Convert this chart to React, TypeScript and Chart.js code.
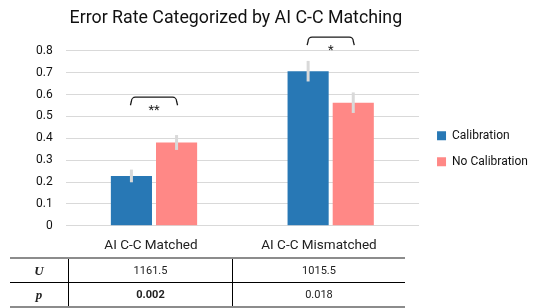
import { useEffect, useRef } from 'react';
import { Chart, registerables } from 'chart.js';

Chart.register(...registerables);

const FONT = 'Roboto';

const categories = ['AI C-C Matched', 'AI C-C Mismatched'];
const seriesNames = ['Calibration', 'No Calibration'];
const calibration = [0.228, 0.707];
const noCalibration = [0.381, 0.563];
const calibrationErr = [0.029, 0.047];
const noCalibrationErr = [0.034, 0.047];
const sigLabels = ['**', '*'];
const bracketLevels = [0.588, 0.863];
const yMin = 0;
const yMax = 0.8;
const yStep = 0.1;
const tableHeaders = ['', 'AI C-C Matched', 'AI C-C Mismatched'];
const uValues = ['1161.5', '1015.5'];
const pValues = ['0.002', '0.018'];
const pBold = [true, false];

const COLORS = ['#2878b5', '#ff8886'];

const errorBars = {
  id: 'errorBars',
  afterDatasetsDraw(chart: any) {
    const { ctx } = chart;
    const y = chart.scales.y;
    chart.data.datasets.forEach((ds: any, i: number) => {
      const meta = chart.getDatasetMeta(i);
      meta.data.forEach((bar: any, j: number) => {
        const v = ds.data[j];
        const e = ds.errors[j];
        ctx.save();
        ctx.strokeStyle = '#d9d9d9';
        ctx.lineWidth = 3;
        ctx.beginPath();
        ctx.moveTo(bar.x, y.getPixelForValue(v + e));
        ctx.lineTo(bar.x, y.getPixelForValue(v - e));
        ctx.stroke();
        ctx.restore();
      });
    });
  },
};

const brackets = {
  id: 'brackets',
  afterDraw(chart: any) {
    const { ctx } = chart;
    const y = chart.scales.y;
    const m0 = chart.getDatasetMeta(0);
    const m1 = chart.getDatasetMeta(1);
    categories.forEach((_, j) => {
      const x1 = m0.data[j].x;
      const x2 = m1.data[j].x;
      const yt = y.getPixelForValue(bracketLevels[j]);
      const leg = 8;
      const r = 4;
      ctx.save();
      ctx.strokeStyle = '#1a1a1a';
      ctx.lineWidth = 1.3;
      ctx.beginPath();
      ctx.moveTo(x1 - 1, yt + leg);
      ctx.lineTo(x1, yt + r);
      ctx.arcTo(x1, yt, x1 + r, yt, r);
      ctx.lineTo(x2 - r, yt);
      ctx.arcTo(x2, yt, x2, yt + r, r);
      ctx.lineTo(x2 + 1, yt + leg);
      ctx.stroke();
      ctx.fillStyle = '#1a1a1a';
      ctx.font = `13px ${FONT}`;
      ctx.textAlign = 'center';
      ctx.textBaseline = 'alphabetic';
      ctx.fillText(sigLabels[j], (x1 + x2) / 2, yt + 17);
      ctx.restore();
    });
  },
};

const shiftBoxes = {
  id: 'shiftBoxes',
  afterLayout(chart: any) {
    const l = chart.legend;
    if (l) {
      l.left += 4;
      l.right += 4;
    }
    const t = chart.titleBlock;
    if (t) {
      t.left -= 6.5;
      t.right -= 6.5;
    }
  },
};

function DataTable() {
  const line = '2px solid #8c8c8c';
  const thin = '1px solid #000';
  const widths = [59, 164, 172];
  const cell = (i: number, extra: any = {}) => ({
    width: widths[i],
    boxSizing: 'border-box' as const,
    textAlign: 'center' as const,
    ...extra,
  });
  const labelStyle = {
    fontFamily: '"Liberation Serif", "DejaVu Serif", serif',
    fontStyle: 'italic',
    fontWeight: 'bold',
    fontSize: 13,
  };
  return (
    <div
      style={{
        position: 'absolute',
        left: 10,
        top: 232,
        width: 395,
        fontFamily: FONT,
        color: '#222',
      }}
    >
      <div style={{ display: 'flex', height: 25, lineHeight: '25px', borderBottom: line, fontSize: 13.5 }}>
        {tableHeaders.map((h, i) => (
          <div key={i} style={cell(i)}>
            {h}
          </div>
        ))}
      </div>
      <div style={{ display: 'flex', height: 23, lineHeight: '23px', borderBottom: thin, fontSize: 11 }}>
        <div style={cell(0, { borderRight: thin, ...labelStyle })}>U</div>
        {uValues.map((v, i) => (
          <div key={i} style={cell(i + 1, i === 0 ? { borderRight: thin } : {})}>
            {v}
          </div>
        ))}
      </div>
      <div style={{ display: 'flex', height: 23, lineHeight: '23px', borderBottom: line, fontSize: 11 }}>
        <div style={cell(0, { borderRight: thin, ...labelStyle })}>p</div>
        {pValues.map((v, i) => (
          <div
            key={i}
            style={cell(i + 1, {
              ...(i === 0 ? { borderRight: thin } : {}),
              fontWeight: pBold[i] ? 'bold' : 'normal',
            })}
          >
            {v}
          </div>
        ))}
      </div>
    </div>
  );
}

export default function App() {
  const ref = useRef<HTMLCanvasElement | null>(null);

  useEffect(() => {
    if (!ref.current) return;
    const chart = new Chart(ref.current, {
      type: 'bar',
      data: {
        labels: categories,
        datasets: [
          {
            label: seriesNames[0],
            data: calibration,
            errors: calibrationErr,
            backgroundColor: COLORS[0],
          } as any,
          {
            label: seriesNames[1],
            data: noCalibration,
            errors: noCalibrationErr,
            backgroundColor: COLORS[1],
          } as any,
        ],
      },
      options: {
        responsive: false,
        animation: false,
        layout: { padding: { left: 23, right: 3, top: 0, bottom: 0 } },
        datasets: { bar: { categoryPercentage: 0.511, barPercentage: 0.911 } },
        plugins: {
          title: {
            display: true,
            text: 'Error Rate Categorized by AI C-C Matching',
            fullSize: false,
            color: '#111',
            font: { family: FONT, size: 17.8, weight: 'normal' },
            padding: { top: 8, bottom: 21.5 },
          },
          legend: {
            position: 'right',
            fullSize: false,
            align: 'center',
            title: { display: true, text: '', padding: { top: 0, bottom: 6.4 }, font: { size: 12 } },
            labels: {
              boxWidth: 9,
              boxHeight: 9,
              padding: 14,
              color: '#111',
              font: { family: FONT, size: 12 },
            },
          },
          tooltip: { enabled: false },
        },
        scales: {
          x: { display: false },
          y: {
            min: yMin,
            max: yMax,
            ticks: { stepSize: yStep, padding: 13, color: '#111', font: { family: FONT, size: 12 } },
            grid: { color: '#d9d9d9', drawTicks: false },
            border: { display: false },
          },
        },
      },
      plugins: [errorBars, brackets, shiftBoxes],
    } as any);
    return () => chart.destroy();
  }, []);

  return (
    <div style={{ position: 'relative', width: 537, height: 308, background: '#fff' }}>
      <style>{`body{margin:0}`}</style>
      <canvas ref={ref} width={537} height={246} style={{ display: 'block' }} />
      <DataTable />
    </div>
  );
}
